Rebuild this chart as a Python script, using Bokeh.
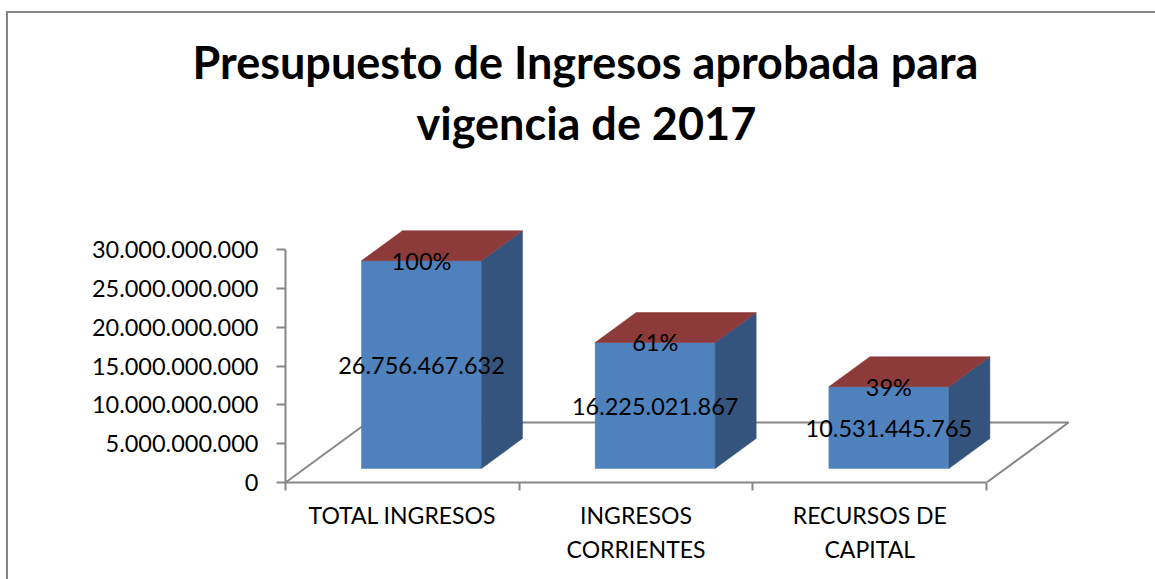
from bokeh.plotting import figure
from bokeh.embed import file_html
from bokeh.resources import INLINE
from bokeh.models import Range1d, FixedTicker, Title
from bokeh.core.properties import value

title_lines = ["Presupuesto de Ingresos aprobada para", "vigencia de 2017"]
categories = ["TOTAL INGRESOS", "INGRESOS\nCORRIENTES", "RECURSOS DE\nCAPITAL"]
amounts = [26756467632, 16225021867, 10531445765]
amount_labels = ["26.756.467.632", "16.225.021.867", "10.531.445.765"]
share_labels = ["100%", "61%", "39%"]
y_ticks = [0, 5e9, 10e9, 15e9, 20e9, 25e9, 30e9]
y_tick_labels = ["0", "5.000.000.000", "10.000.000.000", "15.000.000.000",
                 "20.000.000.000", "25.000.000.000", "30.000.000.000"]

FONT = "Lato"
LABEL_SIZE = "23.5px"
AXIS_GREY = "#868686"
AXIS_W = 2
FRONT, SIDE, TOP = "#4F81BD", "#34547D", "#8C3A3A"

# layout in pixels
W, H = 1155, 579
FRAME_L, FRAME_B, FRAME_T = 285, 482, 152
PX_PER_CAT = 233.7
PX_PER_UNIT = 233.0 / 30e9

# oblique projection, in axis units
DEPTH_X = 82 / PX_PER_CAT
DEPTH_Y = 60 / PX_PER_UNIT
BAR_W = 120 / PX_PER_CAT
BAR_NEAR = 14 / 60      # fraction of floor depth where the bar's front sits
BAR_DEPTH = 0.5         # fraction of floor depth the bar occupies

border = ("linear-gradient({c},{c}) 6px 11px/2px 100% no-repeat,"
          "linear-gradient({c},{c}) 6px 11px/100% 2px no-repeat").format(c=AXIS_GREY)

p = figure(width=W, height=H, frame_width=W - FRAME_L, frame_height=FRAME_B - FRAME_T,
           output_backend="svg", toolbar_location=None,
           min_border_left=FRAME_L, min_border_right=0, min_border_top=FRAME_T,
           min_border_bottom=H - FRAME_B,
           styles={"background": border},
           x_range=Range1d(0, (W - FRAME_L) / PX_PER_CAT),
           y_range=Range1d(0, (FRAME_B - FRAME_T) / PX_PER_UNIT))
p.outline_line_color = None
p.grid.visible = False
p.background_fill_color = None
p.border_fill_color = None

n = len(categories)
# floor
p.line([0, DEPTH_X, n + DEPTH_X, n], [0, DEPTH_Y, DEPTH_Y, 0], line_color=AXIS_GREY, line_width=AXIS_W)

fx0 = [i + 0.5 + BAR_NEAR * DEPTH_X - BAR_W / 2 for i in range(n)]
fx1 = [x + BAR_W for x in fx0]
y0 = BAR_NEAR * DEPTH_Y
ytop = [y0 + a for a in amounts]
dx, dy = BAR_DEPTH * DEPTH_X, BAR_DEPTH * DEPTH_Y

p.patches([[a, b, b, a] for a, b in zip(fx0, fx1)],
          [[y0, y0, t, t] for t in ytop], fill_color=FRONT, line_color=FRONT, line_width=0.5)
p.patches([[b, b + dx, b + dx, b] for b in fx1],
          [[y0, y0 + dy, t + dy, t] for t in ytop], fill_color=SIDE, line_color=SIDE, line_width=0.5)
p.patches([[a, b, b + dx, a + dx] for a, b in zip(fx0, fx1)],
          [[t, t, t + dy, t + dy] for t in ytop], fill_color=TOP, line_color=TOP, line_width=0.5)

cx = [(a + b) / 2 for a, b in zip(fx0, fx1)]
p.text(cx, [y0 + a / 2 for a in amounts], text=amount_labels, text_font=value(FONT),
       text_font_size=LABEL_SIZE, text_color="black", text_align="center", text_baseline="middle",
       y_offset=1)
p.text(cx, ytop, text=share_labels, text_font=value(FONT),
       text_font_size=LABEL_SIZE, text_color="black", text_align="center", text_baseline="middle")

# y axis
ya = p.yaxis[0]
ya.bounds = (0, 30e9)
ya.ticker = FixedTicker(ticks=y_ticks)
ya.major_label_overrides = dict(zip(y_ticks, y_tick_labels))
ya.major_label_text_font = FONT
ya.major_label_text_font_size = LABEL_SIZE
ya.major_label_text_color = "black"
ya.major_label_standoff = 18
ya.major_tick_out = 9
ya.major_tick_in = 0
ya.minor_tick_out = 0
ya.minor_tick_in = 0
ya.axis_line_color = AXIS_GREY
ya.axis_line_width = AXIS_W
ya.major_tick_line_color = AXIS_GREY
ya.major_tick_line_width = AXIS_W

# x axis
xa = p.xaxis[0]
xa.bounds = (0, n)
tick_pos = [i + 0.5 for i in range(n)]
xa.ticker = FixedTicker(ticks=tick_pos, minor_ticks=list(range(n + 1)))
xa.major_label_overrides = dict(zip(tick_pos, categories))
xa.major_label_text_font = FONT
xa.major_label_text_font_size = "23px"
xa.major_label_text_color = "black"
xa.major_label_text_line_height = 1.22
xa.major_label_standoff = 10
xa.major_tick_out = 0
xa.major_tick_in = 0
xa.minor_tick_out = 8
xa.minor_tick_in = 0
xa.minor_tick_line_color = AXIS_GREY
xa.minor_tick_line_width = AXIS_W
xa.axis_line_color = AXIS_GREY
xa.axis_line_width = AXIS_W

# two title lines, nearest the plot first
for line, off, standoff in [(title_lines[1], 131, 6), (title_lines[0], -93, 4)]:
    p.add_layout(Title(text=line, align="left", offset=off, standoff=standoff,
                       text_font=FONT, text_font_size="45px", text_font_style="bold",
                       text_color="black"), "above")

open("out.html", "w").write(file_html(p, INLINE))
